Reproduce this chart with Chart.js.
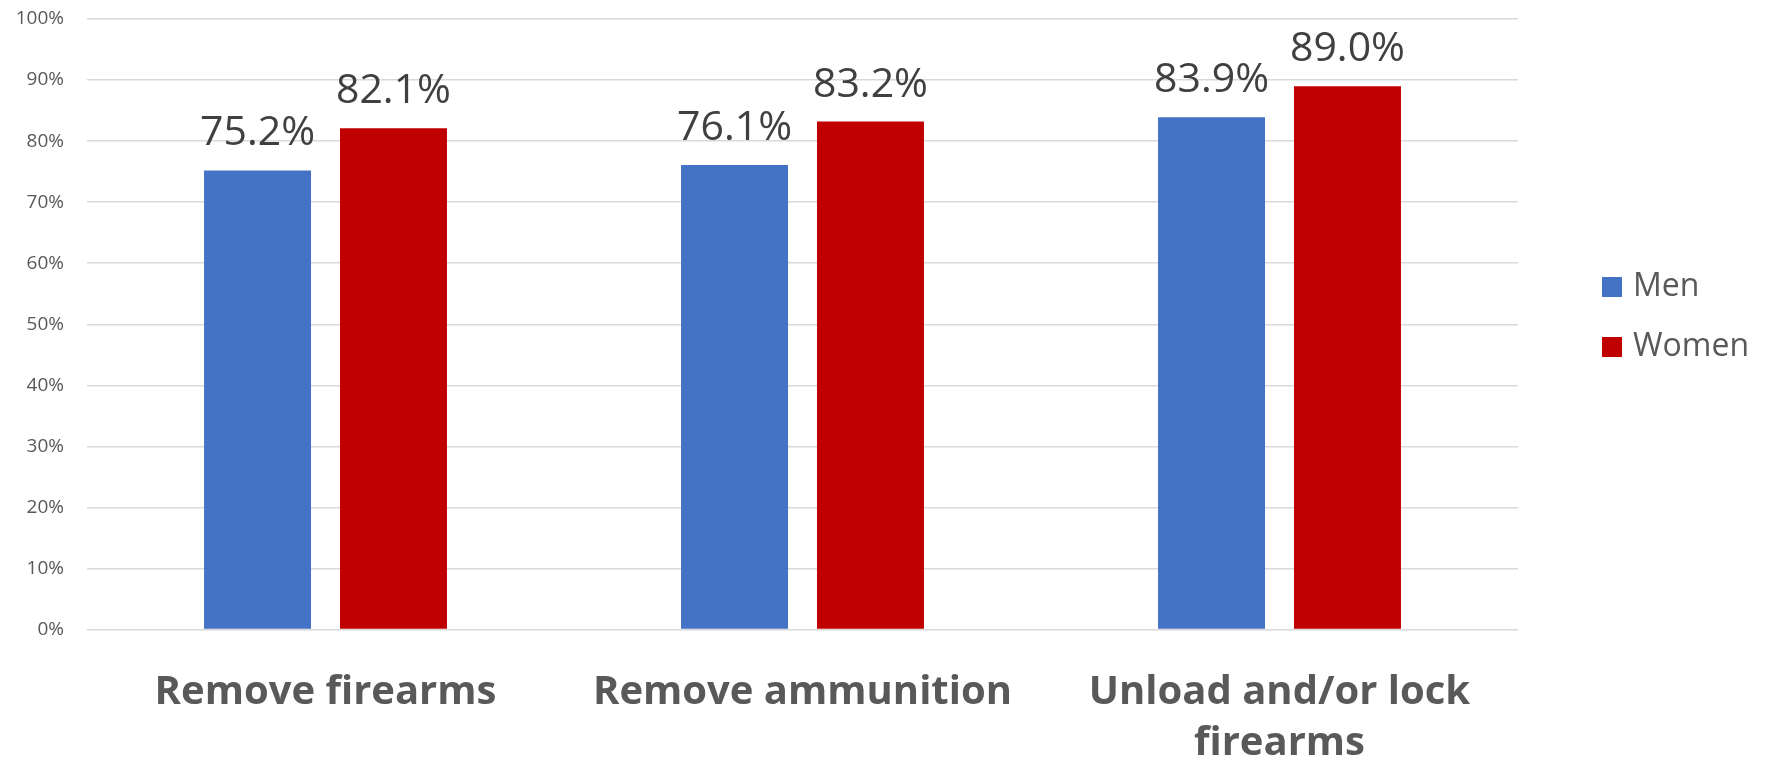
<!DOCTYPE html>
<html>
<head>
<meta charset="utf-8">
<script src="https://cdn.jsdelivr.net/npm/chart.js@4.4.1/dist/chart.umd.min.js"></script>
<style>
  html, body { margin: 0; padding: 0; background: #ffffff; }
  #wrap { width: 1769px; height: 768px; }
</style>
</head>
<body>
<div id="wrap"><canvas id="chart" width="1769" height="768"></canvas></div>
<script>
// Share of respondents who would take each safety step, by gender
const categories = ['Remove firearms', 'Remove ammunition', ['Unload and/or lock', 'firearms']];
const seriesNames = ['Men', 'Women'];
const menValues = [75.2, 76.1, 83.9];
const womenValues = [82.1, 83.2, 89.0];
const seriesColors = ['#4472C4', '#C00000'];
const yTicks = [0, 10, 20, 30, 40, 50, 60, 70, 80, 90, 100];

const FONT = "'Open Sans', 'Liberation Sans', Arial, sans-serif";

// Value labels above each bar
const barValueLabels = {
  id: 'barValueLabels',
  afterDatasetsDraw(chart) {
    const ctx = chart.ctx;
    ctx.save();
    ctx.font = '41px ' + FONT;
    ctx.fillStyle = '#404040';
    ctx.textAlign = 'center';
    ctx.textBaseline = 'alphabetic';
    chart.data.datasets.forEach((ds, i) => {
      chart.getDatasetMeta(i).data.forEach((bar, j) => {
        ctx.fillText(ds.data[j].toFixed(1) + '%', bar.x, bar.y - 25);
      });
    });
    ctx.restore();
  }
};

// Legend on the right, built from the dataset labels and colours
const sideLegend = {
  id: 'sideLegend',
  afterDraw(chart) {
    const ctx = chart.ctx;
    ctx.save();
    ctx.font = '32px ' + FONT;
    ctx.textAlign = 'left';
    ctx.textBaseline = 'middle';
    chart.data.datasets.forEach((ds, i) => {
      const cy = 287 + i * 60;
      ctx.fillStyle = ds.backgroundColor;
      ctx.fillRect(1602, cy - 10, 20, 20);
      ctx.fillStyle = '#595959';
      ctx.fillText(ds.label, 1633, cy);
    });
    ctx.restore();
  }
};

new Chart(document.getElementById('chart'), {
  type: 'bar',
  data: {
    labels: categories,
    datasets: [
      { label: seriesNames[0], data: menValues, backgroundColor: seriesColors[0] },
      { label: seriesNames[1], data: womenValues, backgroundColor: seriesColors[1] }
    ]
  },
  options: {
    responsive: false,
    animation: false,
    devicePixelRatio: 1,
    categoryPercentage: 0.57,
    barPercentage: 0.787,
    layout: { padding: { top: 19, right: 251, left: 0, bottom: 0 } },
    plugins: {
      legend: { display: false },
      tooltip: { enabled: false }
    },
    scales: {
      x: {
        grid: { display: false, drawTicks: false },
        border: { display: false },
        ticks: {
          padding: 38,
          color: '#595959',
          font: { family: FONT, size: 40, weight: 'bold', lineHeight: 1.275 },
          maxRotation: 0,
          autoSkip: false
        },
        afterFit(scale) {
          scale.height = 138.5;
          scale.paddingLeft = 0;
          scale.paddingRight = 0;
        }
      },
      y: {
        min: 0,
        max: 100,
        afterBuildTicks(scale) { scale.ticks = yTicks.map(v => ({ value: v })); },
        grid: { color: '#d9d9d9', lineWidth: 1.5, drawTicks: false },
        border: { display: false },
        ticks: {
          padding: 23,
          color: '#595959',
          font: { family: FONT, size: 19 },
          callback: v => v + '%'
        },
        afterFit(scale) {
          scale.width = 87;
          scale.paddingTop = 0;
          scale.paddingBottom = 0;
        }
      }
    }
  },
  plugins: [barValueLabels, sideLegend]
});
</script>
</body>
</html>
